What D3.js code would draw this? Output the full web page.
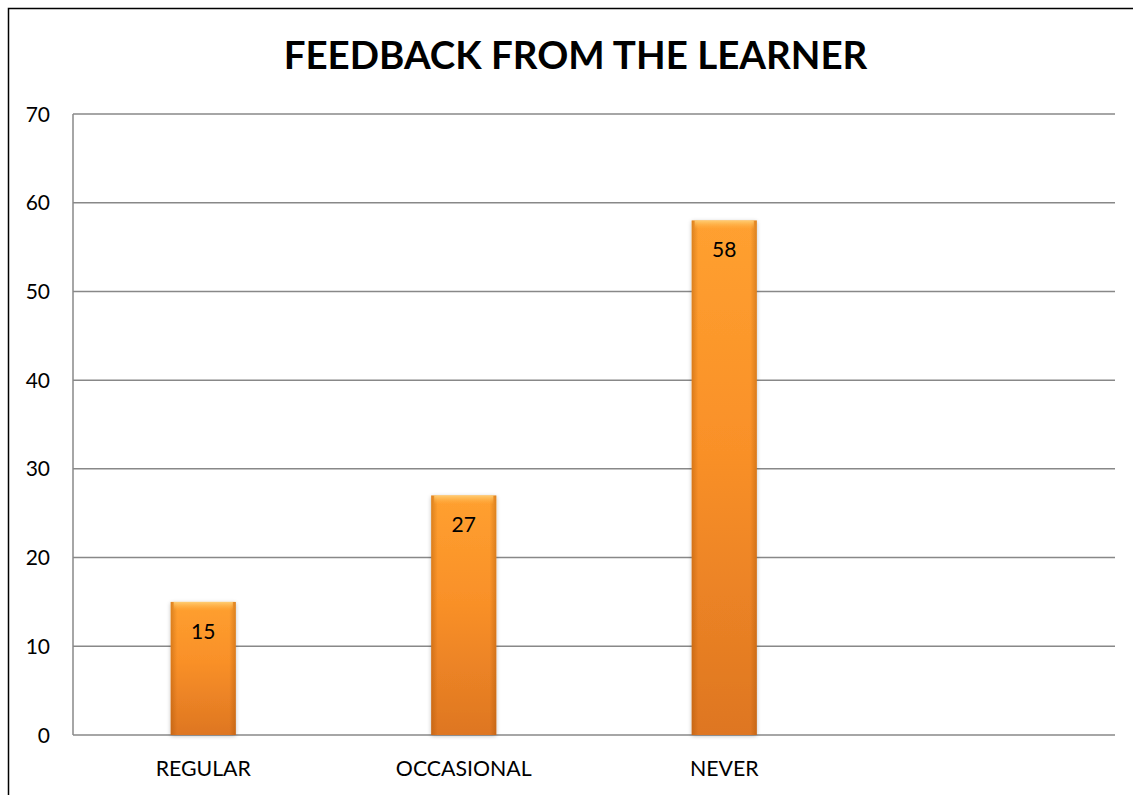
<!DOCTYPE html>
<html>
<head>
<meta charset="utf-8">
<script src="https://cdn.jsdelivr.net/npm/d3@7"></script>
<style>
  html, body { margin: 0; padding: 0; background: #fff; overflow: hidden; }
  svg { display: block; }
</style>
</head>
<body>
<svg id="chart" width="1133" height="795"></svg>
<script>
const title = "FEEDBACK FROM THE LEARNER";
const categories = ["REGULAR", "OCCASIONAL", "NEVER", ""];
const values = [15, 27, 58, null];
const yTicks = [0, 10, 20, 30, 40, 50, 60, 70];

const W = 1133, H = 795;
const margin = { left: 73, right: 18, top: 114, bottom: 60 };
const svg = d3.select("#chart");
const font = "Lato, 'Open Sans', sans-serif";

// outer frame (top and left edges visible only)
svg.append("path").attr("d", `M8.5,${H} V8.5 H${W}`)
  .attr("fill", "none").attr("stroke", "#000").attr("stroke-width", 1.5);

const x = d3.scaleBand().domain(categories).range([margin.left, W - margin.right]).padding(0);
const y = d3.scaleLinear().domain([0, 70]).range([H - margin.bottom, margin.top]);

const defs = svg.append("defs");
const gV = defs.append("linearGradient").attr("id", "gV").attr("x1", 0).attr("y1", 0).attr("x2", 0).attr("y2", 1);
gV.append("stop").attr("offset", "0%").attr("stop-color", "#FFA030");
gV.append("stop").attr("offset", "45%").attr("stop-color", "#F99028");
gV.append("stop").attr("offset", "100%").attr("stop-color", "#DE7622");
const gH = defs.append("linearGradient").attr("id", "gH").attr("x1", 0).attr("y1", 0).attr("x2", 1).attr("y2", 0);
gH.append("stop").attr("offset", "0%").attr("stop-color", "#9a4a00").attr("stop-opacity", 0.35);
gH.append("stop").attr("offset", "10%").attr("stop-color", "#9a4a00").attr("stop-opacity", 0.0);
gH.append("stop").attr("offset", "90%").attr("stop-color", "#9a4a00").attr("stop-opacity", 0.0);
gH.append("stop").attr("offset", "100%").attr("stop-color", "#9a4a00").attr("stop-opacity", 0.35);
const gTop = defs.append("linearGradient").attr("id", "gTop").attr("x1", 0).attr("y1", 0).attr("x2", 0).attr("y2", 1);
gTop.append("stop").attr("offset", "0%").attr("stop-color", "#FFD27A").attr("stop-opacity", 0.9);
gTop.append("stop").attr("offset", "100%").attr("stop-color", "#FFB040").attr("stop-opacity", 0.0);
const blur = defs.append("filter").attr("id", "shadow").attr("x", "-30%").attr("y", "-10%").attr("width", "160%").attr("height", "120%");
blur.append("feGaussianBlur").attr("in", "SourceAlpha").attr("stdDeviation", 2).attr("result", "b");
blur.append("feOffset").attr("in", "b").attr("dx", 0).attr("dy", 1).attr("result", "o");
blur.append("feComponentTransfer").attr("in", "o").attr("result", "s")
  .append("feFuncA").attr("type", "linear").attr("slope", 0.25);
const merge = blur.append("feMerge");
merge.append("feMergeNode").attr("in", "s");
merge.append("feMergeNode").attr("in", "SourceGraphic");

// gridlines
svg.append("g").selectAll("line").data(yTicks).join("line")
  .attr("x1", margin.left).attr("x2", W - margin.right)
  .attr("y1", d => y(d)).attr("y2", d => y(d))
  .attr("stroke", "#888").attr("stroke-width", 1.5);
// y axis line
svg.append("line").attr("x1", margin.left).attr("x2", margin.left)
  .attr("y1", y(70)).attr("y2", y(0)).attr("stroke", "#888").attr("stroke-width", 1.5);

// y tick labels
svg.append("g").selectAll("text").data(yTicks).join("text")
  .attr("x", 50).attr("y", d => y(d)).attr("dy", "0.36em")
  .attr("text-anchor", "end").attr("font-family", font).attr("font-size", 21).attr("fill", "#000")
  .text(d => d);

// bars
const data = categories.map((c, i) => ({ c, v: values[i] })).filter(d => d.v != null);
const bw = x.bandwidth() * 0.25;
const bars = svg.append("g").selectAll("g").data(data).join("g");
bars.append("rect")
  .attr("x", d => x(d.c) + x.bandwidth() / 2 - bw / 2).attr("y", d => y(d.v))
  .attr("width", bw).attr("height", d => y(0) - y(d.v))
  .attr("fill", "url(#gV)").attr("filter", "url(#shadow)");
bars.append("rect")
  .attr("x", d => x(d.c) + x.bandwidth() / 2 - bw / 2).attr("y", d => y(d.v))
  .attr("width", bw).attr("height", d => y(0) - y(d.v))
  .attr("fill", "url(#gH)");
bars.append("rect")
  .attr("x", d => x(d.c) + x.bandwidth() / 2 - bw / 2 + 3).attr("y", d => y(d.v))
  .attr("width", bw - 6).attr("height", 9)
  .attr("fill", "url(#gTop)");
bars.append("text")
  .attr("x", d => x(d.c) + x.bandwidth() / 2).attr("y", d => y(d.v) + 37)
  .attr("text-anchor", "middle").attr("font-family", font).attr("font-size", 21).attr("fill", "#000")
  .text(d => d.v);

// category labels
svg.append("g").selectAll("text").data(categories).join("text")
  .attr("x", d => x(d) + x.bandwidth() / 2).attr("y", 776)
  .attr("text-anchor", "middle").attr("font-family", font).attr("font-size", 21.3).attr("fill", "#000")
  .text(d => d);

// title
svg.append("text").attr("x", 575.5).attr("y", 69)
  .attr("text-anchor", "middle").attr("font-family", font).attr("font-weight", "bold")
  .attr("font-size", 38.5).attr("fill", "#000").text(title);
</script>
</body>
</html>
